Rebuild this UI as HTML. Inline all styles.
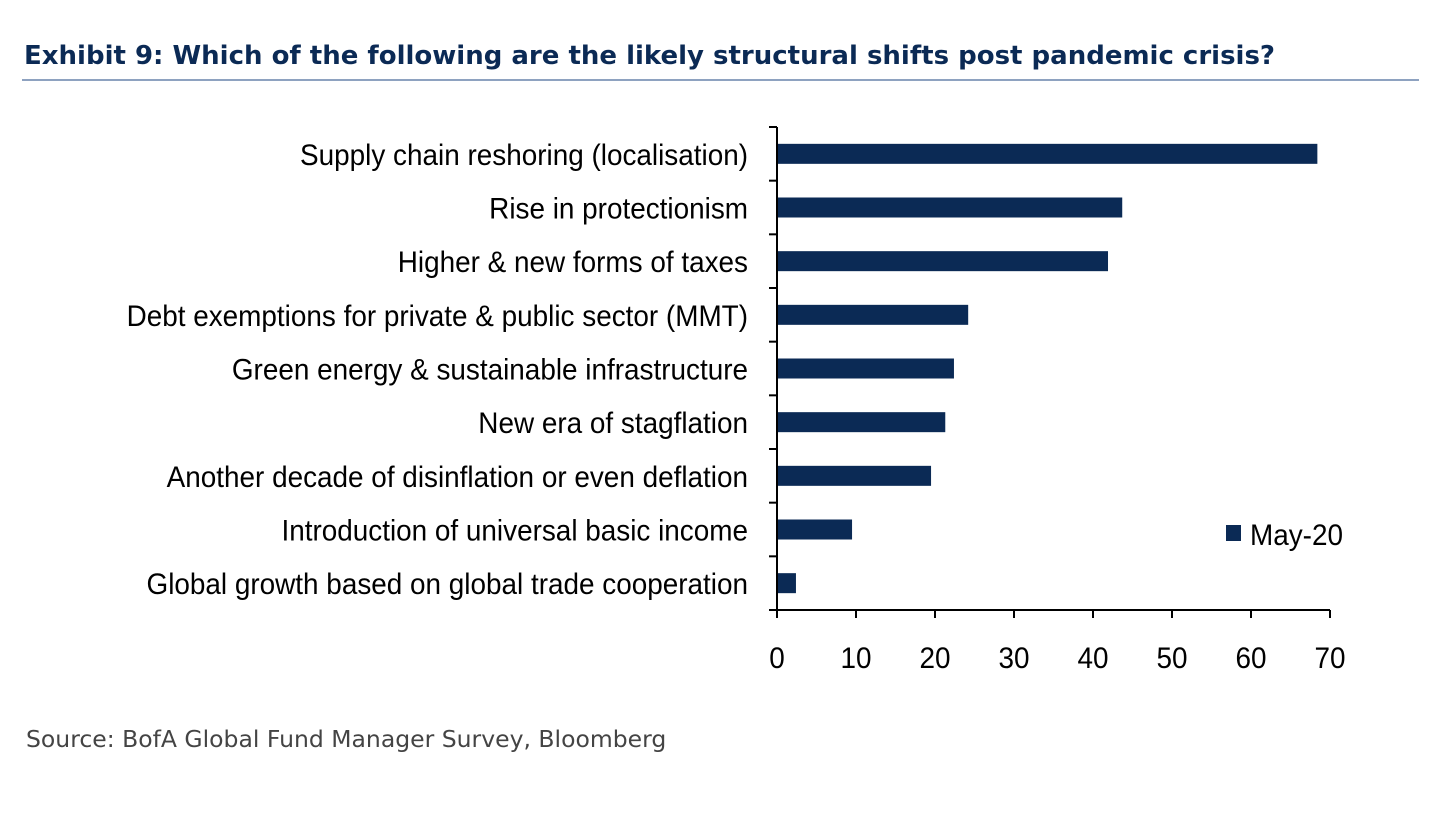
<!DOCTYPE html>
<html><head><meta charset="utf-8"><style>
body{margin:0;background:#fff;width:1439px;height:811px;overflow:hidden;font-family:"Liberation Sans",sans-serif}
</style></head><body>
<svg width="1439" height="811">
<text x="24" y="64" font-family="'DejaVu Sans','Liberation Sans',sans-serif" font-weight="bold" font-size="26" fill="#0b2a55">Exhibit 9: Which of the following are the likely structural shifts post pandemic crisis?</text>
<rect x="22" y="79" width="1397" height="2" fill="#8ea2c0"/>
<g id="plot"></g>
<text x="26" y="747" font-family="'DejaVu Sans','Liberation Sans',sans-serif" font-size="23.5" fill="#444">Source: BofA Global Fund Manager Survey, Bloomberg</text>
</svg>
<script>
const categories=["Supply chain reshoring (localisation)","Rise in protectionism","Higher & new forms of taxes","Debt exemptions for private & public sector (MMT) ","Green energy & sustainable infrastructure","New era of stagflation","Another decade of disinflation or even deflation","Introduction of universal basic income","Global growth based on global trade cooperation"];
const values=[68.4,43.7,41.9,24.2,22.4,21.3,19.5,9.5,2.4];
const xTicks=[0,10,20,30,40,50,60,70];
const seriesName="May-20";
const NS="http://www.w3.org/2000/svg";
const g=document.getElementById('plot');
const x0=777,x1=1330,yTop=127,yBot=610,xMax=70;
const xs=v=>x0+(v/xMax)*(x1-x0);
const band=(yBot-yTop)/categories.length;
const yc=i=>yTop+band*(i+0.5);
function mk(t,a){const e=document.createElementNS(NS,t);for(const k in a)e.setAttribute(k,a[k]);g.appendChild(e);return e;}
categories.forEach((c,i)=>{
 const b=mk('rect',{x:x0,y:yc(i)-10,width:xs(values[i])-x0,height:20,fill:'#0b2a55'});
 
 
 const t=mk('text',{transform:`translate(748,${yc(i)+11}) scale(0.93,1)`,'text-anchor':'end','font-size':30,fill:'#000'});
 t.textContent=c;
 
 
});
for(let i=0;i<=categories.length;i++){
 const l=mk('line',{x1:769,x2:x0,y1:yTop+band*i,y2:yTop+band*i,stroke:'#000','stroke-width':2});
 
 
}
const ya=mk('line',{x1:x0,x2:x0,y1:yTop,y2:yBot,stroke:'#000','stroke-width':2});


const xa=mk('line',{x1:x0,x2:x1,y1:yBot,y2:yBot,stroke:'#000','stroke-width':2});


xTicks.forEach(v=>{
 const l=mk('line',{x1:xs(v),x2:xs(v),y1:yBot,y2:yBot+8,stroke:'#000','stroke-width':2});
 
 
 const t=mk('text',{transform:`translate(${xs(v)},668) scale(0.93,1)`,'text-anchor':'middle','font-size':30,fill:'#000'});
 t.textContent=v;
 
 
});
const ls=mk('rect',{x:1226,y:525,width:15,height:16,fill:'#0b2a55'});


const lt=mk('text',{transform:'translate(1250,545) scale(0.93,1)','font-size':30,fill:'#000'});
lt.textContent=seriesName;


</script>
</body></html>
